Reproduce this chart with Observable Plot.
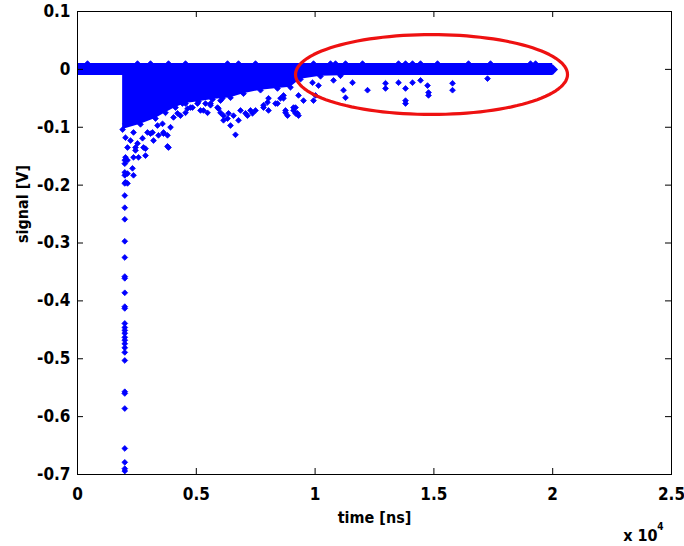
<!DOCTYPE html>
<html>
<head>
<meta charset="utf-8">
<script src="https://cdn.jsdelivr.net/npm/d3@7"></script>
<script src="https://cdn.jsdelivr.net/npm/@observablehq/plot@0.6"></script>
<style>
  html, body { margin: 0; padding: 0; background: #fff; }
  #chart { width: 684px; height: 546px; }
</style>
</head>
<body>
<div id="chart"></div>
<script>
// ---- data ----
const xTicks = [0, 5000, 10000, 15000, 20000, 25000];
const xTickLabels = ["0", "0.5", "1", "1.5", "2", "2.5"];
const yTicks = [0.1, 0, -0.1, -0.2, -0.3, -0.4, -0.5, -0.6, -0.7];
const yTickLabels = ["0.1", "0", "-0.1", "-0.2", "-0.3", "-0.4", "-0.5", "-0.6", "-0.7"];

// dense band of samples around 0 V
const bandX = [0, 20000];
const bandLow = [-0.0106, -0.0106];
const bandHigh = [0.0100, 0.0100];

// dense mass of negative samples after the pulse (lower envelope)
const massX = [1900, 2652, 3283, 3704, 4125, 4546, 5093, 5682, 6440, 6987, 7703, 8418, 8965, 9386, 10228, 11069];
const massLow = [-0.104, -0.095, -0.085, -0.075, -0.066, -0.059, -0.056, -0.052, -0.049, -0.042, -0.036, -0.033, -0.031, -0.017, -0.012, -0.011];

// samples sticking out above the band
const topX = [421, 2525, 3073, 3830, 4546, 6314, 6776, 7492, 9933, 10649, 10859, 11280, 11996, 13511, 13806, 14100, 14437, 15152, 16457, 17383, 19067, 19278];
const topY = 0.010;

// pulse column at t ~ 2000 ns
const spikeX = 1990;
const spikeY = [-0.157, -0.163, -0.178, -0.183, -0.197, -0.218, -0.239, -0.259, -0.297, -0.325, -0.358, -0.361, -0.386, -0.410, -0.413, -0.439, -0.446, -0.451, -0.456, -0.463, -0.468, -0.474, -0.481, -0.489, -0.503, -0.557, -0.560, -0.586, -0.655, -0.679, -0.690, -0.694];

// scattered samples below the dense mass
const scatterX = [2020, 2020, 2104, 2020, 2231, 2357, 2441, 2568, 2736, 2862, 2946, 3073, 3199, 3367, 3578, 3620, 3830, 3915, 4041, 4209, 4335, 4419, 4630, 4840, 5051, 5177, 5387, 5472,
  2104, 2357, 2315, 2104, 2357, 2020, 2104, 2862, 2778, 2441, 3157, 3788, 3620, 3788, 4546, 4756, 5303, 5598, 5893, 6103, 6145, 6314, 6566, 6650, 6861, 7155, 7492, 7829, 7997, 8418, 8671, 8755, 8839, 9091, 9260, 9302,
  5598, 6019, 5935, 6356, 6440, 6776, 7071, 7282, 7829, 8039, 8334, 8544, 9176, 9512,
  8671, 9091, 9176, 8755, 9933, 10017, 9891, 10144, 10775, 11196, 11280, 11575, 12206, 12964, 12964, 13511, 13806, 13806, 13806, 14100, 14437, 14732, 14774, 14774, 15784, 15784, 17257,
  6145, 6019, 7366, 9302, 8039, 2525, 3409];
const scatterY = [-0.094, -0.118, -0.135, -0.152, -0.123, -0.109, -0.140, -0.152, -0.119, -0.137, -0.109, -0.111, -0.123, -0.097, -0.094, -0.109, -0.135, -0.100, -0.083, -0.076, -0.080, -0.059, -0.068, -0.066, -0.059, -0.071, -0.059, -0.075,
  -0.157, -0.152, -0.171, -0.180, -0.183, -0.195, -0.197, -0.149, -0.135, -0.135, -0.109, -0.133, -0.111, -0.114, -0.075, -0.066, -0.071, -0.062, -0.066, -0.050, -0.080, -0.085, -0.080, -0.113, -0.071, -0.080, -0.071, -0.066, -0.057, -0.059, -0.050, -0.075, -0.080, -0.066, -0.076, -0.080,
  -0.059, -0.054, -0.068, -0.076, -0.097, -0.088, -0.076, -0.071, -0.062, -0.071, -0.059, -0.050, -0.076, -0.054,
  -0.045, -0.071, -0.066, -0.071, -0.054, -0.045, -0.023, -0.028, -0.019, -0.036, -0.049, -0.023, -0.036, -0.033, -0.024, -0.023, -0.033, -0.054, -0.059, -0.023, -0.019, -0.028, -0.040, -0.045, -0.024, -0.036, -0.016,
  -0.088, -0.075, -0.076, -0.045, -0.050, -0.128, -0.114];

// highlight ellipse (center / radii, data units)
const ellipseCx = 14900, ellipseCy = -0.0089, ellipseRx = 5724, ellipseRy = 0.069;

// ---- build tables ----
const bandRows = bandX.map((x, i) => ({x, y1: bandLow[i], y2: bandHigh[i]}));
const massRows = massX.map((x, i) => ({x, y1: massLow[i], y2: 0}));
const topRows = topX.map(x => ({x, y: topY}));
const spikeRows = spikeY.map(y => ({x: spikeX, y}));
const scatterRows = scatterX.map((x, i) => ({x, y: scatterY[i]}));
const ellipseRows = d3.range(0, 361, 3).map(a => {
  const t = a * Math.PI / 180;
  return {x: ellipseCx + ellipseRx * Math.cos(t), y: ellipseCy + ellipseRy * Math.sin(t)};
});

const W = 684, H = 546;
const mL = 77, mR = 13, mT = 11, mB = 72;
const xDom = [0, 25000], yDom = [-0.7, 0.1];
const tickPx = 6;
const tickDX = tickPx * (xDom[1] - xDom[0]) / (W - mL - mR);
const tickDY = tickPx * (yDom[1] - yDom[0]) / (H - mT - mB);

const font = "'DejaVu Sans Condensed', 'Liberation Sans Narrow', 'Arial Narrow', sans-serif";
const blue = "#0000ff";
const dotOpts = {symbol: "diamond2", r: 2.6, fill: blue, stroke: blue, strokeWidth: 0.8};

const chart = Plot.plot({
  width: W, height: H,
  marginLeft: mL, marginRight: mR, marginTop: mT, marginBottom: mB,
  x: {domain: xDom, axis: null},
  y: {domain: yDom, axis: null},
  style: {fontFamily: font, background: "#fff", overflow: "visible"},
  marks: [
    Plot.areaY(bandRows, {x: "x", y1: "y1", y2: "y2", fill: blue}),
    Plot.areaY(massRows, {x: "x", y1: "y1", y2: "y2", fill: blue}),
    Plot.dot(massRows, {x: "x", y: "y1", ...dotOpts}),
    Plot.dot(topRows, {x: "x", y: "y", ...dotOpts}),
    Plot.dot(bandRows.slice(1), {x: "x", y: d => (d.y1 + d.y2) / 2, symbol: "diamond2", r: 4.8, fill: blue}),
    Plot.dot(spikeRows, {x: "x", y: "y", ...dotOpts}),
    Plot.dot(scatterRows, {x: "x", y: "y", ...dotOpts}),
    Plot.line(ellipseRows, {x: "x", y: "y", stroke: "#ee1111", strokeWidth: 3.2, curve: "linear"}),
    Plot.frame({stroke: "#000", strokeWidth: 1}),
    // inward ticks on all sides
    Plot.ruleX(xTicks.slice(1, -1), {x: d => d, y1: yDom[0], y2: yDom[0] + tickDY, stroke: "#000"}),
    Plot.ruleX(xTicks.slice(1, -1), {x: d => d, y1: yDom[1], y2: yDom[1] - tickDY, stroke: "#000"}),
    Plot.ruleY(yTicks.slice(1, -1), {y: d => d, x1: xDom[0], x2: xDom[0] + tickDX, stroke: "#000"}),
    Plot.ruleY(yTicks.slice(1, -1), {y: d => d, x1: xDom[1], x2: xDom[1] - tickDX, stroke: "#000"}),
    // tick labels
    Plot.text(xTicks, {x: d => d, y: yDom[0], dy: 20, text: (d, i) => xTickLabels[i], fontSize: 17, fontWeight: "bold", fill: "#000"}),
    Plot.text(yTicks, {x: xDom[0], y: d => d, dx: -7, text: (d, i) => yTickLabels[i], textAnchor: "end", fontSize: 17, fontWeight: "bold", fill: "#000"}),
    // axis labels
    Plot.text(["time [ns]"], {frameAnchor: "bottom", dy: 48, text: d => d, fontSize: 16, fontWeight: "bold", fill: "#000"}),
    Plot.text(["signal [V]"], {frameAnchor: "left", dx: -55, rotate: -90, text: d => d, fontSize: 16, fontWeight: "bold", fill: "#000"}),
    Plot.text(["x 10"], {frameAnchor: "bottom-right", dx: -14, dy: 66, textAnchor: "end", text: d => d, fontSize: 16, fontWeight: "bold", fill: "#000"}),
    Plot.text(["4"], {frameAnchor: "bottom-right", dx: -8, dy: 55, textAnchor: "end", text: d => d, fontSize: 10, fontWeight: "bold", fill: "#000"})
  ]
});
document.getElementById("chart").appendChild(chart);
</script>
</body>
</html>
